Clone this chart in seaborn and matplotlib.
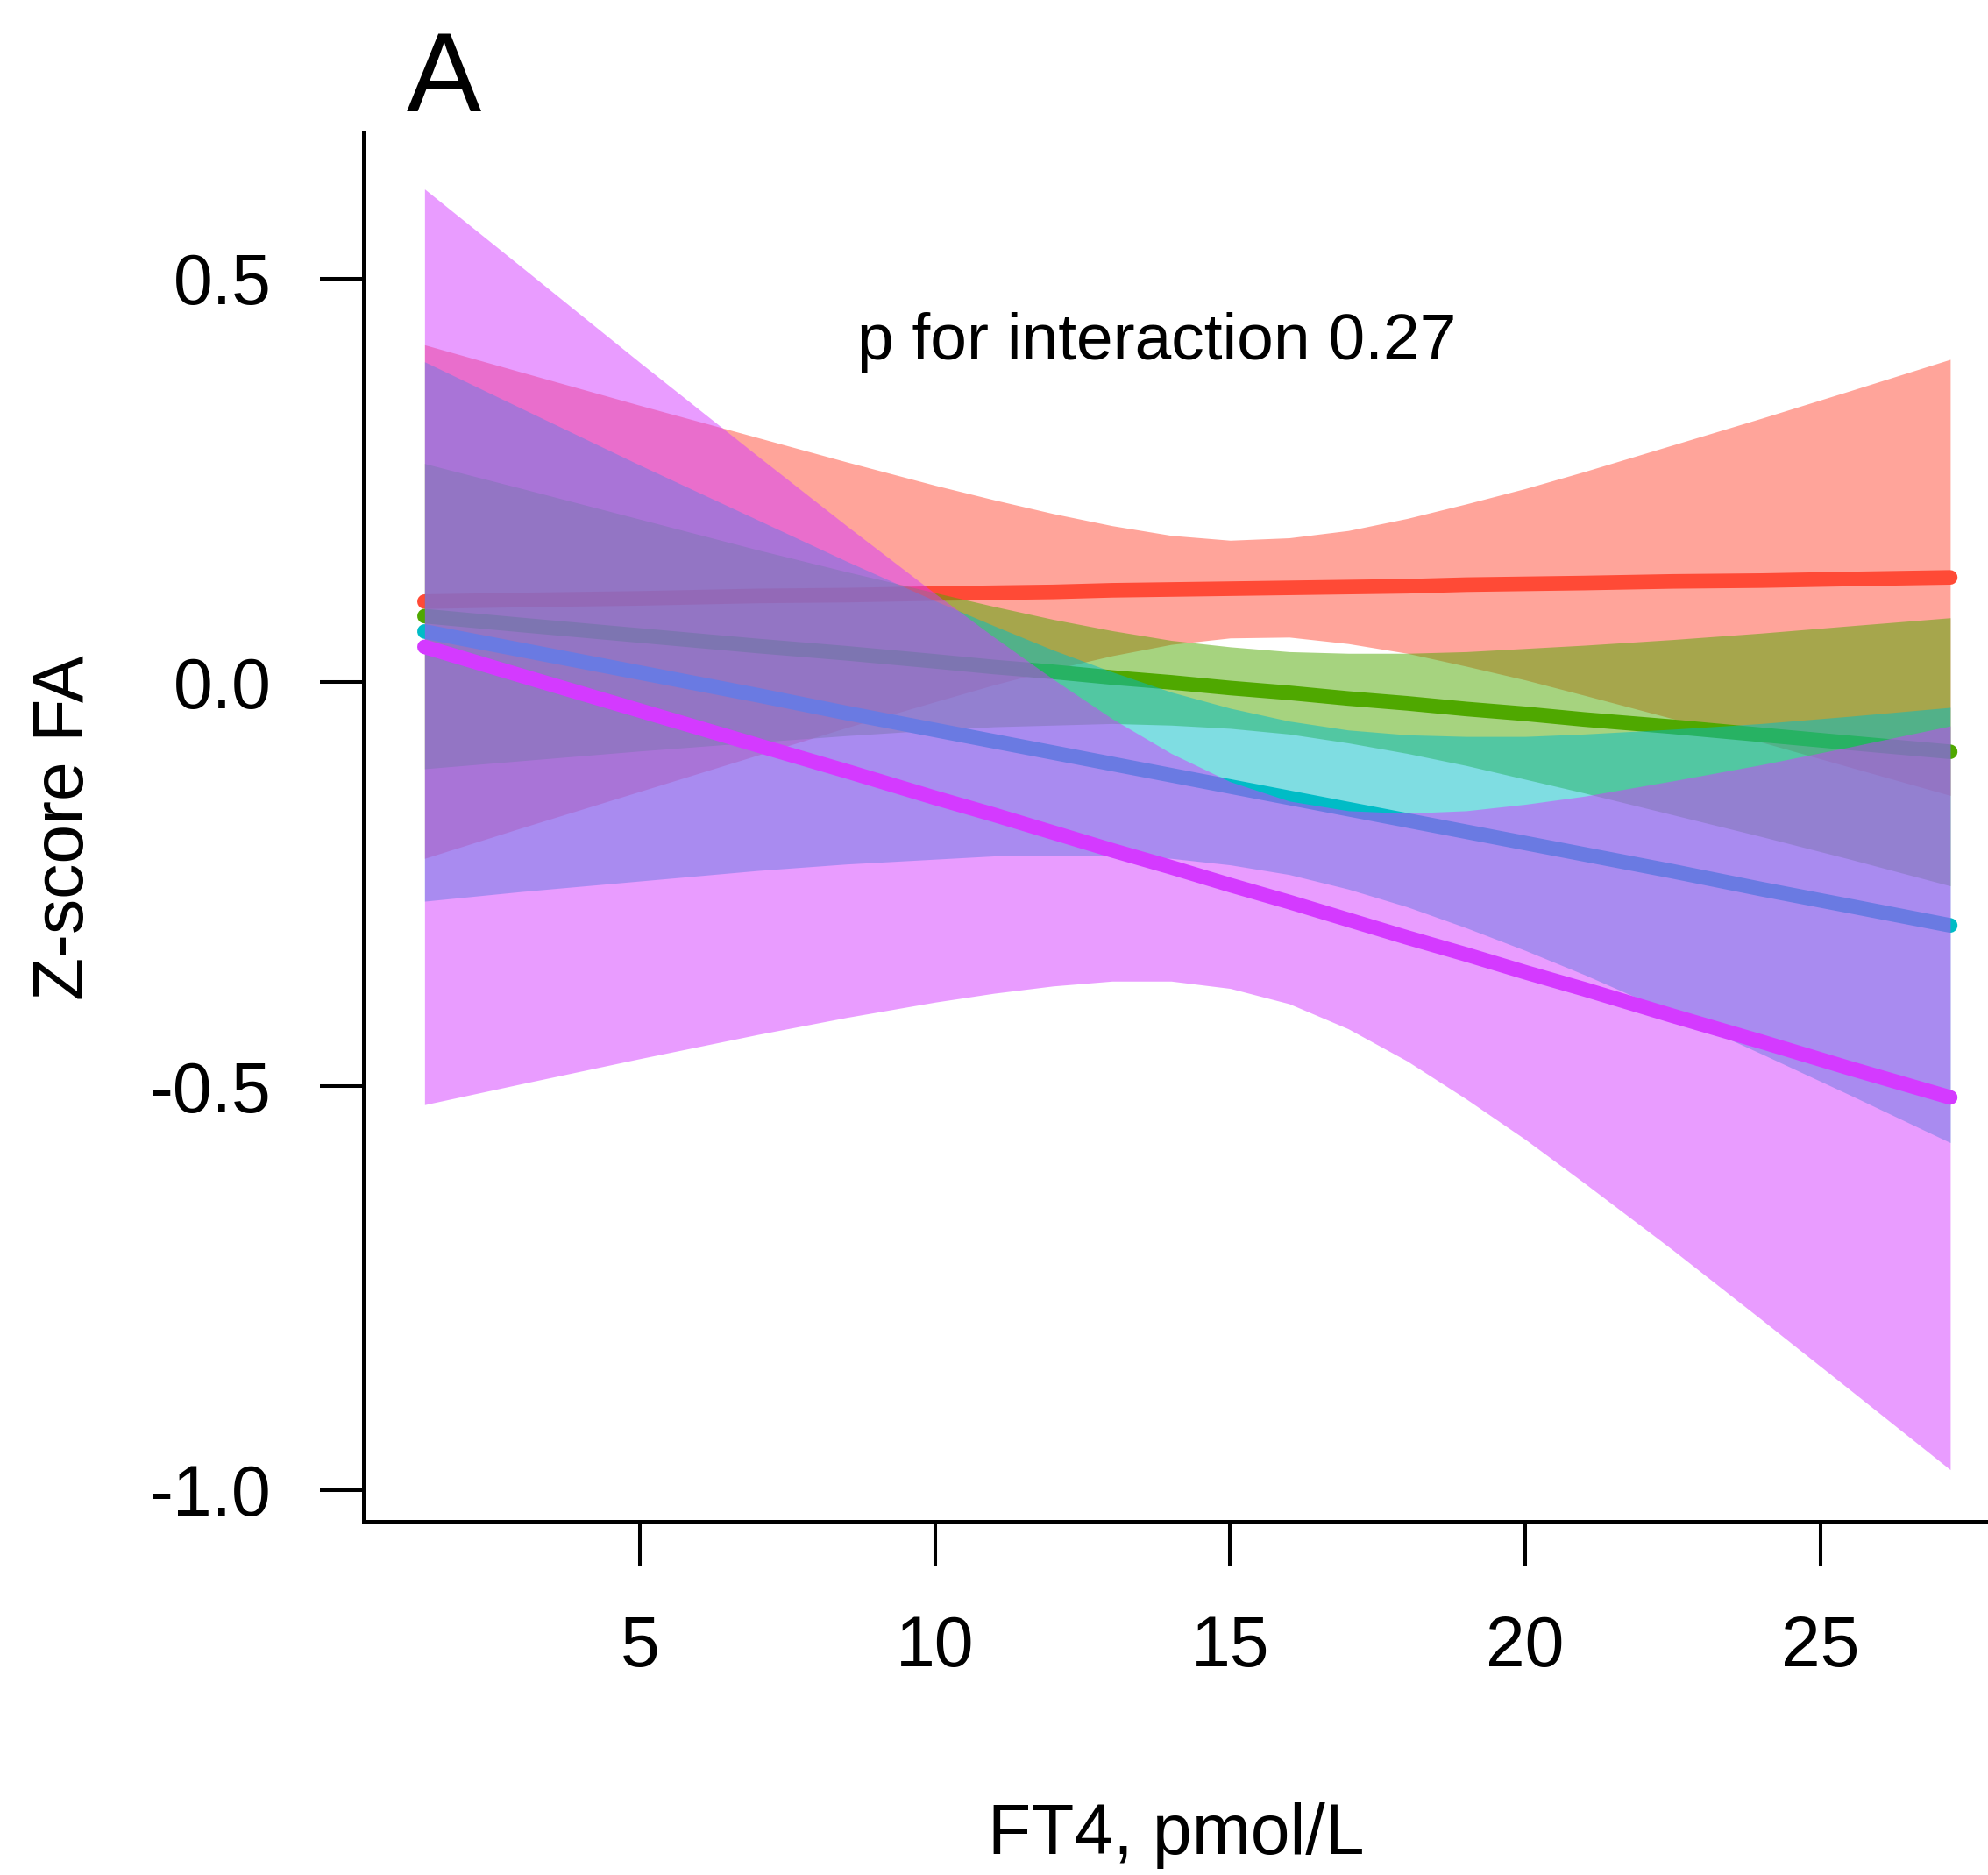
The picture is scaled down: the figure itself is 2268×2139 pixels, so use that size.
import numpy as np
import pandas as pd
import matplotlib
matplotlib.use("Agg")
import matplotlib.pyplot as plt
import seaborn as sns

# ---- data ----
x_ft4 = [1.35, 3, 5, 7, 8.5, 10, 11, 12, 13, 14, 15, 16, 17, 18, 19, 20, 21, 22.5, 24, 25.5, 27.2]
group_names = ["Group 1", "Group 2", "Group 3", "Group 4"]
group_colors = ["#FF4A36", "#4FA800", "#00BCC6", "#D43AFF"]

red_fit = [0.100, 0.102, 0.104, 0.107, 0.108, 0.110, 0.111, 0.112, 0.114, 0.115, 0.116, 0.117, 0.118, 0.119, 0.121, 0.122, 0.123, 0.125, 0.126, 0.128, 0.130]
red_lo = [-0.218, -0.180, -0.135, -0.090, -0.056, -0.024, -0.003, 0.016, 0.033, 0.047, 0.055, 0.056, 0.048, 0.036, 0.020, 0.003, -0.016, -0.045, -0.074, -0.105, -0.140]
red_hi = [0.418, 0.384, 0.343, 0.303, 0.273, 0.244, 0.226, 0.209, 0.194, 0.182, 0.176, 0.179, 0.188, 0.203, 0.221, 0.240, 0.261, 0.294, 0.327, 0.361, 0.400]

green_fit = [0.082, 0.071, 0.058, 0.045, 0.036, 0.026, 0.019, 0.013, 0.006, 0.000, -0.007, -0.013, -0.020, -0.026, -0.033, -0.039, -0.046, -0.055, -0.065, -0.075, -0.086]
green_lo = [-0.107, -0.097, -0.085, -0.074, -0.066, -0.059, -0.055, -0.053, -0.051, -0.053, -0.057, -0.064, -0.075, -0.088, -0.103, -0.120, -0.137, -0.164, -0.191, -0.219, -0.252]
green_hi = [0.271, 0.240, 0.202, 0.164, 0.137, 0.111, 0.094, 0.078, 0.064, 0.052, 0.044, 0.038, 0.036, 0.036, 0.038, 0.042, 0.046, 0.053, 0.061, 0.070, 0.080]

cyan_fit = [0.063, 0.040, 0.012, -0.016, -0.038, -0.059, -0.073, -0.087, -0.101, -0.115, -0.129, -0.143, -0.157, -0.171, -0.185, -0.199, -0.213, -0.234, -0.256, -0.277, -0.301]
cyan_lo = [-0.271, -0.259, -0.246, -0.233, -0.225, -0.219, -0.215, -0.214, -0.214, -0.218, -0.226, -0.238, -0.256, -0.278, -0.304, -0.332, -0.362, -0.410, -0.460, -0.511, -0.570]
cyan_hi = [0.397, 0.339, 0.269, 0.201, 0.150, 0.101, 0.070, 0.040, 0.013, -0.012, -0.032, -0.048, -0.059, -0.065, -0.067, -0.067, -0.064, -0.058, -0.051, -0.042, -0.031]

mag_fit = [0.044, 0.008, -0.035, -0.078, -0.110, -0.143, -0.164, -0.186, -0.208, -0.229, -0.251, -0.272, -0.294, -0.316, -0.337, -0.359, -0.380, -0.413, -0.445, -0.478, -0.514]
mag_lo = [-0.523, -0.497, -0.466, -0.436, -0.415, -0.396, -0.385, -0.376, -0.370, -0.370, -0.379, -0.398, -0.429, -0.469, -0.516, -0.566, -0.620, -0.703, -0.789, -0.876, -0.975]
mag_hi = [0.611, 0.514, 0.396, 0.280, 0.194, 0.110, 0.056, 0.004, -0.045, -0.088, -0.123, -0.147, -0.159, -0.162, -0.159, -0.151, -0.141, -0.122, -0.102, -0.080, -0.054]

x_ticks = [5, 10, 15, 20, 25]
y_ticks = [-1.0, -0.5, 0.0, 0.5]
y_tick_labels = ["-1.0", "-0.5", "0.0", "0.5"]
annotation = "p for interaction 0.27"
panel_label = "A"
x_label = "FT4, pmol/L"
y_label = "Z-score FA"

fits = [red_fit, green_fit, cyan_fit, mag_fit]
los = [red_lo, green_lo, cyan_lo, mag_lo]
his = [red_hi, green_hi, cyan_hi, mag_hi]

frames = []
for name, f, lo, hi in zip(group_names, fits, los, his):
    frames.append(pd.DataFrame({"FT4": x_ft4, "fit": f, "lo": lo, "hi": hi, "group": name}))
df = pd.concat(frames, ignore_index=True)

# ---- style ----
sns.set_theme(style="white")
plt.rcParams["font.family"] = ["Liberation Sans", "DejaVu Sans"]

W, H, DPI = 2268, 2139, 100
fig = plt.figure(figsize=(W / DPI, H / DPI), dpi=DPI)
left, right, top, bottom = 415, 2268, 152, 1736
ax = fig.add_axes([left / W, 1 - bottom / H, (right - left) / W, (bottom - top) / H])

for i, (name, col) in enumerate(zip(group_names, group_colors)):
    sub = df[df["group"] == name]
    ax.fill_between(sub["FT4"], sub["lo"], sub["hi"], color=col, alpha=0.5,
                    linewidth=0, zorder=2 * i + 1)
    sns.lineplot(data=sub, x="FT4", y="fit", color=col, linewidth=12,
                 solid_capstyle="round", ax=ax, zorder=2 * i + 2, legend=False)

ax.set_xlim(0.32, 27.84)
ax.set_ylim(-1.0395, 0.680)

for s in ["top", "right"]:
    ax.spines[s].set_visible(False)
for s in ["left", "bottom"]:
    ax.spines[s].set_linewidth(3.6)
    ax.spines[s].set_color("black")

ax.set_xticks(x_ticks)
ax.set_xticklabels([str(t) for t in x_ticks])
ax.set_yticks(y_ticks)
ax.set_yticklabels(y_tick_labels)
ax.tick_params(axis="both", which="major", direction="out", length=36, width=2.9,
               color="black", labelsize=58, labelcolor="black", pad=40,
               bottom=True, left=True)
ax.grid(False)

ax.set_xlabel(x_label, fontsize=58, labelpad=100, color="black")
ax.set_ylabel(y_label, fontsize=58, labelpad=42, color="black")

ax.text(13.76, 0.40, annotation, fontsize=54, ha="center", va="baseline", color="black")
fig.text(464 / W, 1 - 127 / H, panel_label, fontsize=92, ha="left", va="baseline", color="black")

fig.savefig("out.png", dpi=DPI)
